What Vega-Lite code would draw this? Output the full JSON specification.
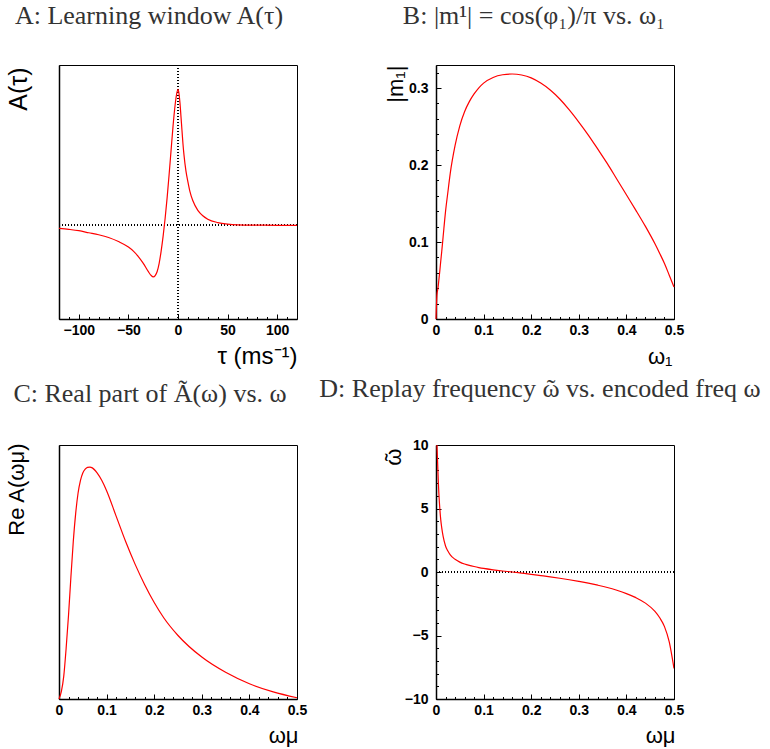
{
  "$schema": "https://vega.github.io/schema/vega-lite/v6.json",
  "padding": {"left": 4, "top": 2, "right": 5, "bottom": 0},
  "background": "white",
  "columns": 2,
  "spacing": {"row": 126, "column": 139},
  "bounds": "flush",
  "config": {
    "view": {"stroke": "#000", "strokeWidth": 1},
    "axis": {"grid": false, "domainColor": "#000", "domainWidth": 1.5, "tickColor": "#000", "tickWidth": 1,
      "labelFont": "Liberation Sans", "labelFontWeight": "bold", "labelFontSize": 14, "labelColor": "#000",
      "titleFont": "Liberation Sans", "titleFontWeight": "normal", "titleFontSize": 22, "titleColor": "#000"},
    "title": {"font": "Liberation Serif", "fontSize": 26, "fontWeight": "normal", "color": "#333", "anchor": "middle", "frame": "group", "baseline": "alphabetic", "offset": 36},
    "line": {"color": "#ff0000", "strokeWidth": 1.2}
  },
  "datasets": {
    "A": [
      {"tau": -120, "A": -0.022}, {"tau": -110, "A": -0.03}, {"tau": -100, "A": -0.04}, {"tau": -90, "A": -0.055},
      {"tau": -80, "A": -0.07}, {"tau": -70, "A": -0.09}, {"tau": -60, "A": -0.12}, {"tau": -50, "A": -0.16},
      {"tau": -45, "A": -0.19}, {"tau": -40, "A": -0.23}, {"tau": -35, "A": -0.28}, {"tau": -30, "A": -0.34},
      {"tau": -27, "A": -0.37}, {"tau": -25, "A": -0.38}, {"tau": -23, "A": -0.37}, {"tau": -21, "A": -0.34},
      {"tau": -19, "A": -0.28}, {"tau": -17, "A": -0.19}, {"tau": -15, "A": -0.08}, {"tau": -13, "A": 0.05},
      {"tau": -11, "A": 0.2}, {"tau": -9, "A": 0.37}, {"tau": -7, "A": 0.55}, {"tau": -5, "A": 0.73},
      {"tau": -3, "A": 0.88}, {"tau": -1, "A": 0.98}, {"tau": 0, "A": 1.0}, {"tau": 1, "A": 0.97},
      {"tau": 2, "A": 0.9}, {"tau": 3, "A": 0.8}, {"tau": 4, "A": 0.7}, {"tau": 5, "A": 0.6},
      {"tau": 6, "A": 0.52}, {"tau": 8, "A": 0.4}, {"tau": 10, "A": 0.32}, {"tau": 12, "A": 0.25},
      {"tau": 15, "A": 0.18}, {"tau": 20, "A": 0.11}, {"tau": 25, "A": 0.07}, {"tau": 30, "A": 0.045},
      {"tau": 40, "A": 0.02}, {"tau": 50, "A": 0.008}, {"tau": 60, "A": 0.003}, {"tau": 80, "A": 0.001},
      {"tau": 100, "A": 0}, {"tau": 120, "A": 0}
    ],
    "B": [
      {"w": 0, "m": 0}, {"w": 0.002, "m": 0.0317}, {"w": 0.004, "m": 0.0395}, {"w": 0.006, "m": 0.0507},
      {"w": 0.008, "m": 0.0624}, {"w": 0.01, "m": 0.0754}, {"w": 0.012, "m": 0.0874}, {"w": 0.015, "m": 0.1071},
      {"w": 0.02, "m": 0.1395}, {"w": 0.025, "m": 0.165}, {"w": 0.03, "m": 0.1895}, {"w": 0.04, "m": 0.2251},
      {"w": 0.05, "m": 0.251}, {"w": 0.06, "m": 0.2693}, {"w": 0.07, "m": 0.2824}, {"w": 0.08, "m": 0.2924},
      {"w": 0.09, "m": 0.3004}, {"w": 0.1, "m": 0.3065}, {"w": 0.12, "m": 0.3138}, {"w": 0.14, "m": 0.3173},
      {"w": 0.16, "m": 0.3183}, {"w": 0.18, "m": 0.317}, {"w": 0.2, "m": 0.3133}, {"w": 0.22, "m": 0.3065},
      {"w": 0.24, "m": 0.2975}, {"w": 0.26, "m": 0.2858}, {"w": 0.28, "m": 0.2717}, {"w": 0.3, "m": 0.2559},
      {"w": 0.32, "m": 0.239}, {"w": 0.34, "m": 0.2206}, {"w": 0.36, "m": 0.2018}, {"w": 0.38, "m": 0.1816},
      {"w": 0.4, "m": 0.1614}, {"w": 0.42, "m": 0.1412}, {"w": 0.44, "m": 0.1203}, {"w": 0.46, "m": 0.0977},
      {"w": 0.47, "m": 0.0852}, {"w": 0.48, "m": 0.0721}, {"w": 0.49, "m": 0.0569}, {"w": 0.5, "m": 0.0415}
    ],
    "C": [
      {"w": 0, "re": 0}, {"w": 0.005, "re": 0.03}, {"w": 0.01, "re": 0.09}, {"w": 0.015, "re": 0.2},
      {"w": 0.02, "re": 0.33}, {"w": 0.025, "re": 0.48}, {"w": 0.03, "re": 0.62}, {"w": 0.035, "re": 0.73},
      {"w": 0.04, "re": 0.81}, {"w": 0.045, "re": 0.86}, {"w": 0.05, "re": 0.89}, {"w": 0.055, "re": 0.905},
      {"w": 0.06, "re": 0.912}, {"w": 0.065, "re": 0.913}, {"w": 0.07, "re": 0.91}, {"w": 0.08, "re": 0.89},
      {"w": 0.09, "re": 0.86}, {"w": 0.1, "re": 0.82}, {"w": 0.12, "re": 0.72}, {"w": 0.14, "re": 0.62},
      {"w": 0.16, "re": 0.53}, {"w": 0.18, "re": 0.45}, {"w": 0.2, "re": 0.38}, {"w": 0.22, "re": 0.32},
      {"w": 0.25, "re": 0.25}, {"w": 0.3, "re": 0.165}, {"w": 0.35, "re": 0.105}, {"w": 0.4, "re": 0.06},
      {"w": 0.45, "re": 0.028}, {"w": 0.5, "re": 0.005}
    ],
    "D": [
      {"w": 0.002, "wt": 10}, {"w": 0.003, "wt": 9.0}, {"w": 0.004, "wt": 8.0}, {"w": 0.005, "wt": 7.0},
      {"w": 0.006, "wt": 6.2}, {"w": 0.008, "wt": 5.0}, {"w": 0.01, "wt": 4.1}, {"w": 0.012, "wt": 3.5},
      {"w": 0.015, "wt": 2.8}, {"w": 0.02, "wt": 2.05}, {"w": 0.025, "wt": 1.65}, {"w": 0.03, "wt": 1.35},
      {"w": 0.04, "wt": 1.0}, {"w": 0.05, "wt": 0.78}, {"w": 0.06, "wt": 0.63}, {"w": 0.07, "wt": 0.52},
      {"w": 0.08, "wt": 0.43}, {"w": 0.09, "wt": 0.35}, {"w": 0.1, "wt": 0.28}, {"w": 0.12, "wt": 0.17},
      {"w": 0.14, "wt": 0.08}, {"w": 0.16, "wt": 0.0}, {"w": 0.18, "wt": -0.09}, {"w": 0.2, "wt": -0.18},
      {"w": 0.22, "wt": -0.28}, {"w": 0.24, "wt": -0.38}, {"w": 0.26, "wt": -0.49}, {"w": 0.28, "wt": -0.61},
      {"w": 0.3, "wt": -0.74}, {"w": 0.32, "wt": -0.88}, {"w": 0.34, "wt": -1.04}, {"w": 0.36, "wt": -1.22},
      {"w": 0.38, "wt": -1.44}, {"w": 0.4, "wt": -1.7}, {"w": 0.42, "wt": -2.02}, {"w": 0.44, "wt": -2.45},
      {"w": 0.46, "wt": -3.1}, {"w": 0.47, "wt": -3.6}, {"w": 0.48, "wt": -4.3}, {"w": 0.49, "wt": -5.5},
      {"w": 0.5, "wt": -7.6}
    ]
  },
  "concat": [
    {
      "width": 238, "height": 254,
      "title": {"text": "A: Learning window A(τ)", "dx": -29},
      "data": {"name": "A"},
      "resolve": {"axis": {"x": "independent", "y": "independent"}},
      "layer": [
        {
          "mark": {"type": "rule", "strokeDash": [1, 2], "color": "#000", "strokeWidth": 1},
          "encoding": {"y": {"datum": 0, "type": "quantitative", "axis": null}}
        },
        {
          "mark": {"type": "rule", "strokeDash": [1, 2], "color": "#000", "strokeWidth": 1},
          "encoding": {"x": {"datum": 0, "type": "quantitative", "axis": null}}
        },
        {
          "mark": {"type": "line", "interpolate": "monotone"},
          "encoding": {
            "x": {"field": "tau", "type": "quantitative", "scale": {"domain": [-120, 120], "nice": false, "zero": false},
              "axis": {"orient": "bottom", "values": [-100, -50, 0, 50, 100], "tickSize": -5, "labelPadding": 9, "labelBaseline": "top",
                "title": "τ  (ms⁻¹)", "titleFontSize": 24, "titleAnchor": "end", "titleAlign": "right", "titleX": 238, "titleY": 44, "titleBaseline": "alphabetic", "labelFlush": false}},
            "y": {"field": "A", "type": "quantitative", "scale": {"domain": [-0.69, 1.18], "nice": false, "zero": false},
              "axis": {"orient": "left", "ticks": false, "labels": false, "title": "A(τ)", "titleFontSize": 25, "titleAngle": 270, "titleAlign": "right",
                "titleBaseline": "alphabetic", "titleX": -33, "titleY": 2}}
          }
        },
        {
          "mark": {"type": "point", "opacity": 0},
          "encoding": {
            "x": {"field": "tau", "type": "quantitative",
              "axis": {"orient": "bottom", "values": [-110, -90, -80, -70, -60, -40, -30, -20, -10, 10, 20, 30, 40, 60, 70, 80, 90, 110],
                "tickSize": -2.5, "labels": false, "domain": false, "title": null}}
          }
        }
      ]
    },
    {
      "width": 238, "height": 254,
      "title": {"text": "B: |m¹| = cos(φ₁)/π vs. ω₁", "dx": -21},
      "data": {"name": "B"},
      "resolve": {"axis": {"x": "independent", "y": "independent"}},
      "layer": [
        {
          "mark": {"type": "line", "interpolate": "monotone"},
          "encoding": {
            "x": {"field": "w", "type": "quantitative", "scale": {"domain": [0, 0.5], "nice": false},
              "axis": {"orient": "bottom", "values": [0, 0.1, 0.2, 0.3, 0.4, 0.5], "format": ".1~f", "tickSize": -5, "labelPadding": 9, "labelBaseline": "top",
                "title": "ω₁", "titleAnchor": "end", "titleAlign": "right", "titleX": 236, "titleY": 44, "titleBaseline": "alphabetic", "labelFlush": false}},
            "y": {"field": "m", "type": "quantitative", "scale": {"domain": [0, 0.33], "nice": false},
              "axis": {"orient": "left", "values": [0, 0.1, 0.2, 0.3], "format": ".1~f", "tickSize": -5, "labelPadding": 13,
                "title": "|m₁|", "titleAngle": 270, "titleAlign": "right", "titleBaseline": "alphabetic", "titleX": -34, "titleY": 0}}
          }
        },
        {
          "mark": {"type": "point", "opacity": 0},
          "encoding": {
            "x": {"field": "w", "type": "quantitative",
              "axis": {"orient": "bottom", "values": [0.02, 0.04, 0.06, 0.08, 0.12, 0.14, 0.16, 0.18, 0.22, 0.24, 0.26, 0.28, 0.32, 0.34, 0.36, 0.38, 0.42, 0.44, 0.46, 0.48],
                "tickSize": -2.5, "labels": false, "domain": false, "title": null}},
            "y": {"field": "m", "type": "quantitative",
              "axis": {"orient": "left", "values": [0.02, 0.04, 0.06, 0.08, 0.12, 0.14, 0.16, 0.18, 0.22, 0.24, 0.26, 0.28, 0.32],
                "tickSize": -2.5, "labels": false, "domain": false, "title": null}}
          }
        }
      ]
    },
    {
      "width": 238, "height": 254,
      "title": {"text": "C: Real part of Ã(ω) vs. ω", "dx": -28},
      "data": {"name": "C"},
      "resolve": {"axis": {"x": "independent", "y": "independent"}},
      "layer": [
        {
          "mark": {"type": "line", "interpolate": "monotone"},
          "encoding": {
            "x": {"field": "w", "type": "quantitative", "scale": {"domain": [0, 0.5], "nice": false},
              "axis": {"orient": "bottom", "values": [0, 0.1, 0.2, 0.3, 0.4, 0.5], "format": ".1~f", "tickSize": -5, "labelPadding": 9, "labelBaseline": "top",
                "title": "ωμ", "titleAnchor": "end", "titleAlign": "right", "titleX": 239, "titleY": 43, "titleBaseline": "alphabetic", "labelFlush": false}},
            "y": {"field": "re", "type": "quantitative", "scale": {"domain": [0, 1], "nice": false},
              "axis": {"orient": "left", "ticks": false, "labels": false, "title": "Re A(ωμ)", "titleAngle": 270, "titleAlign": "right",
                "titleBaseline": "alphabetic", "titleX": -36, "titleY": -2}}
          }
        },
        {
          "mark": {"type": "point", "opacity": 0},
          "encoding": {
            "x": {"field": "w", "type": "quantitative",
              "axis": {"orient": "bottom", "values": [0.02, 0.04, 0.06, 0.08, 0.12, 0.14, 0.16, 0.18, 0.22, 0.24, 0.26, 0.28, 0.32, 0.34, 0.36, 0.38, 0.42, 0.44, 0.46, 0.48],
                "tickSize": -2.5, "labels": false, "domain": false, "title": null}}
          }
        }
      ]
    },
    {
      "width": 238, "height": 254,
      "title": {"text": "D: Replay frequency ῶ vs. encoded freq ω", "dx": -15},
      "data": {"name": "D"},
      "resolve": {"axis": {"x": "independent", "y": "independent"}},
      "layer": [
        {
          "mark": {"type": "rule", "strokeDash": [1, 2], "color": "#000", "strokeWidth": 1},
          "encoding": {"y": {"datum": 0, "type": "quantitative", "axis": null}}
        },
        {
          "mark": {"type": "line", "interpolate": "monotone", "clip": true},
          "encoding": {
            "x": {"field": "w", "type": "quantitative", "scale": {"domain": [0, 0.5], "nice": false},
              "axis": {"orient": "bottom", "values": [0, 0.1, 0.2, 0.3, 0.4, 0.5], "format": ".1~f", "tickSize": -5, "labelPadding": 9, "labelBaseline": "top",
                "title": "ωμ", "titleAnchor": "end", "titleAlign": "right", "titleX": 239, "titleY": 43, "titleBaseline": "alphabetic", "labelFlush": false}},
            "y": {"field": "wt", "type": "quantitative", "scale": {"domain": [-10, 10], "nice": false},
              "axis": {"orient": "left", "values": [-10, -5, 0, 5, 10], "tickSize": -5, "labelPadding": 13,
                "title": "ῶ", "titleAngle": 270, "titleAlign": "right", "titleBaseline": "alphabetic", "titleX": -36, "titleY": 3}}
          }
        },
        {
          "mark": {"type": "point", "opacity": 0},
          "encoding": {
            "x": {"field": "w", "type": "quantitative",
              "axis": {"orient": "bottom", "values": [0.02, 0.04, 0.06, 0.08, 0.12, 0.14, 0.16, 0.18, 0.22, 0.24, 0.26, 0.28, 0.32, 0.34, 0.36, 0.38, 0.42, 0.44, 0.46, 0.48],
                "tickSize": -2.5, "labels": false, "domain": false, "title": null}},
            "y": {"field": "wt", "type": "quantitative",
              "axis": {"orient": "left", "values": [-9, -8, -7, -6, -4, -3, -2, -1, 1, 2, 3, 4, 6, 7, 8, 9],
                "tickSize": -2.5, "labels": false, "domain": false, "title": null}}
          }
        }
      ]
    }
  ]
}
